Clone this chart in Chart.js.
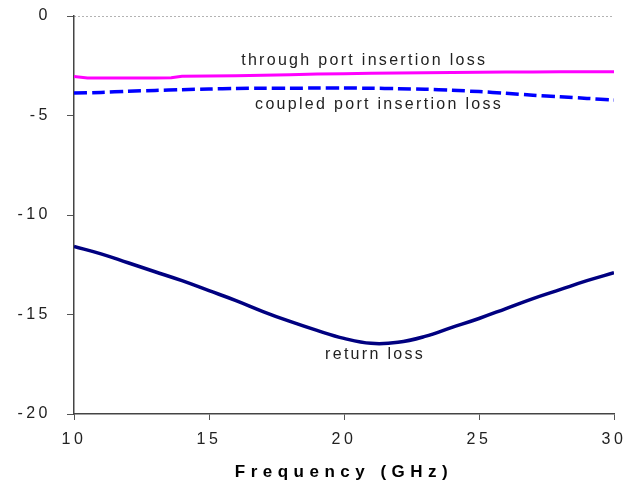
<!DOCTYPE html>
<html>
<head>
<meta charset="utf-8">
<script src="https://cdn.jsdelivr.net/npm/chart.js@4.4.0/dist/chart.umd.min.js"></script>
<style>
  html, body { margin: 0; padding: 0; background: #fff; }
</style>
</head>
<body>
<canvas id="chart" width="636" height="491"></canvas>
<script>
// frequency (GHz) and loss (dB)
const throughFreq = [10, 10.5, 11, 12, 13, 13.6, 14, 15, 16, 17, 18, 19, 20, 21, 22, 23, 24, 25, 26, 27, 28, 29, 30];
const throughLoss = [-3.04, -3.11, -3.12, -3.12, -3.11, -3.1, -3.03, -3.02, -3.0, -2.98, -2.95, -2.92, -2.9, -2.88, -2.86, -2.85, -2.84, -2.83, -2.82, -2.81, -2.8, -2.8, -2.8];

const coupledFreq = [10, 11, 12, 13, 14, 15, 16, 17, 18, 19, 20, 21, 22, 23, 24, 25, 26, 27, 28, 29, 30];
const coupledLoss = [-3.87, -3.84, -3.78, -3.74, -3.7, -3.67, -3.64, -3.63, -3.63, -3.62, -3.62, -3.63, -3.65, -3.68, -3.73, -3.8, -3.88, -3.98, -4.06, -4.14, -4.22];

const returnFreq = [10, 11, 12, 13, 14, 15, 16, 17, 18, 19, 20, 21, 22, 23, 24, 25, 26, 27, 28, 29, 30];
const returnLoss = [-11.58, -11.95, -12.4, -12.85, -13.3, -13.8, -14.3, -14.85, -15.35, -15.8, -16.2, -16.45, -16.4, -16.1, -15.65, -15.2, -14.7, -14.2, -13.75, -13.3, -12.9];

const xTicks = [10, 15, 20, 25, 30];
const yTicks = [-20, -15, -10, -5, 0];

// text labels sitting next to the curves, anchored in data units
const curveLabels = [
  { text: 'through port insertion loss', x: 20.75, y: -2.26 },
  { text: 'coupled port insertion loss', x: 21.3, y: -4.47 },
  { text: 'return loss', x: 21.15, y: -17.03 }
];

const FONT = "'Liberation Sans', Arial, sans-serif";

function toPoints(xs, ys) {
  return xs.map((x, i) => ({ x: x, y: ys[i] }));
}

// the original text is drawn wide, so add letter spacing
const spacingPlugin = {
  id: 'spacing',
  beforeLayout(chart) { chart.ctx.letterSpacing = '3.5px'; },
  beforeDraw(chart) {
    chart.ctx.letterSpacing = '3.5px';
    const xs = chart.scales.x;
    if (xs && !xs._patched) {
      const orig = xs.drawTitle.bind(xs);
      xs.drawTitle = function () {
        const ctx = chart.ctx;
        ctx.save();
        ctx.letterSpacing = '5.5px';
        orig();
        ctx.restore();
      };
      xs._patched = true;
    }
  }
};

const labelPlugin = {
  id: 'curveLabels',
  afterDatasetsDraw(chart) {
    const ctx = chart.ctx;
    const xs = chart.scales.x, ys = chart.scales.y;
    ctx.save();
    ctx.letterSpacing = '2.3px';
    ctx.font = '16px ' + FONT;
    ctx.fillStyle = '#222';
    ctx.textAlign = 'center';
    ctx.textBaseline = 'middle';
    curveLabels.forEach(l => {
      ctx.fillText(l.text, xs.getPixelForValue(l.x), ys.getPixelForValue(l.y));
    });
    ctx.restore();
  }
};

new Chart(document.getElementById('chart'), {
  type: 'line',
  data: {
    datasets: [
      {
        label: 'through port insertion loss',
        data: toPoints(throughFreq, throughLoss),
        borderColor: '#ff00ff',
        borderWidth: 3,
        tension: 0
      },
      {
        label: 'coupled port insertion loss',
        data: toPoints(coupledFreq, coupledLoss),
        borderColor: '#0000ff',
        borderWidth: 3.5,
        borderDash: [13, 5],
        tension: 0.3
      },
      {
        label: 'return loss',
        data: toPoints(returnFreq, returnLoss),
        borderColor: '#000080',
        borderWidth: 3.5,
        tension: 0.4
      }
    ]
  },
  options: {
    responsive: false,
    animation: false,
    devicePixelRatio: 1,
    layout: { padding: { top: 16, right: 22, left: 0, bottom: 0 } },
    elements: { point: { radius: 0 } },
    plugins: {
      legend: { display: false },
      tooltip: { enabled: false }
    },
    scales: {
      x: {
        type: 'linear',
        min: 10,
        max: 30,
        afterBuildTicks: s => { s.ticks = xTicks.map(v => ({ value: v })); },
        afterFit: s => { s.height = 77; s.paddingLeft = 0; s.paddingRight = 0; },
        ticks: { padding: 10, color: '#222', font: { family: FONT, size: 16 } },
        grid: { drawOnChartArea: false, tickLength: 6, tickColor: '#555', tickWidth: 1 },
        border: { color: '#444', width: 1.5 },
        title: {
          display: true,
          text: 'Frequency (GHz)',
          color: '#000',
          font: { family: FONT, size: 17, weight: 'bold' },
          padding: { top: 0, bottom: 8 }
        }
      },
      y: {
        type: 'linear',
        min: -20,
        max: 0,
        afterBuildTicks: s => { s.ticks = yTicks.map(v => ({ value: v })); },
        afterFit: s => { s.width = 74; s.paddingTop = 0; s.paddingBottom = 0; },
        ticks: { padding: 16, color: '#222', font: { family: FONT, size: 16 } },
        grid: {
          color: c => (c.tick && c.tick.value === 0) ? '#666' : 'rgba(0,0,0,0)',
          lineWidth: 1,
          tickColor: '#555',
          tickLength: 7,
          tickWidth: 1
        },
        border: { color: '#444', width: 1.5, dash: [1, 3] }
      }
    }
  },
  plugins: [spacingPlugin, labelPlugin]
});
</script>
</body>
</html>
